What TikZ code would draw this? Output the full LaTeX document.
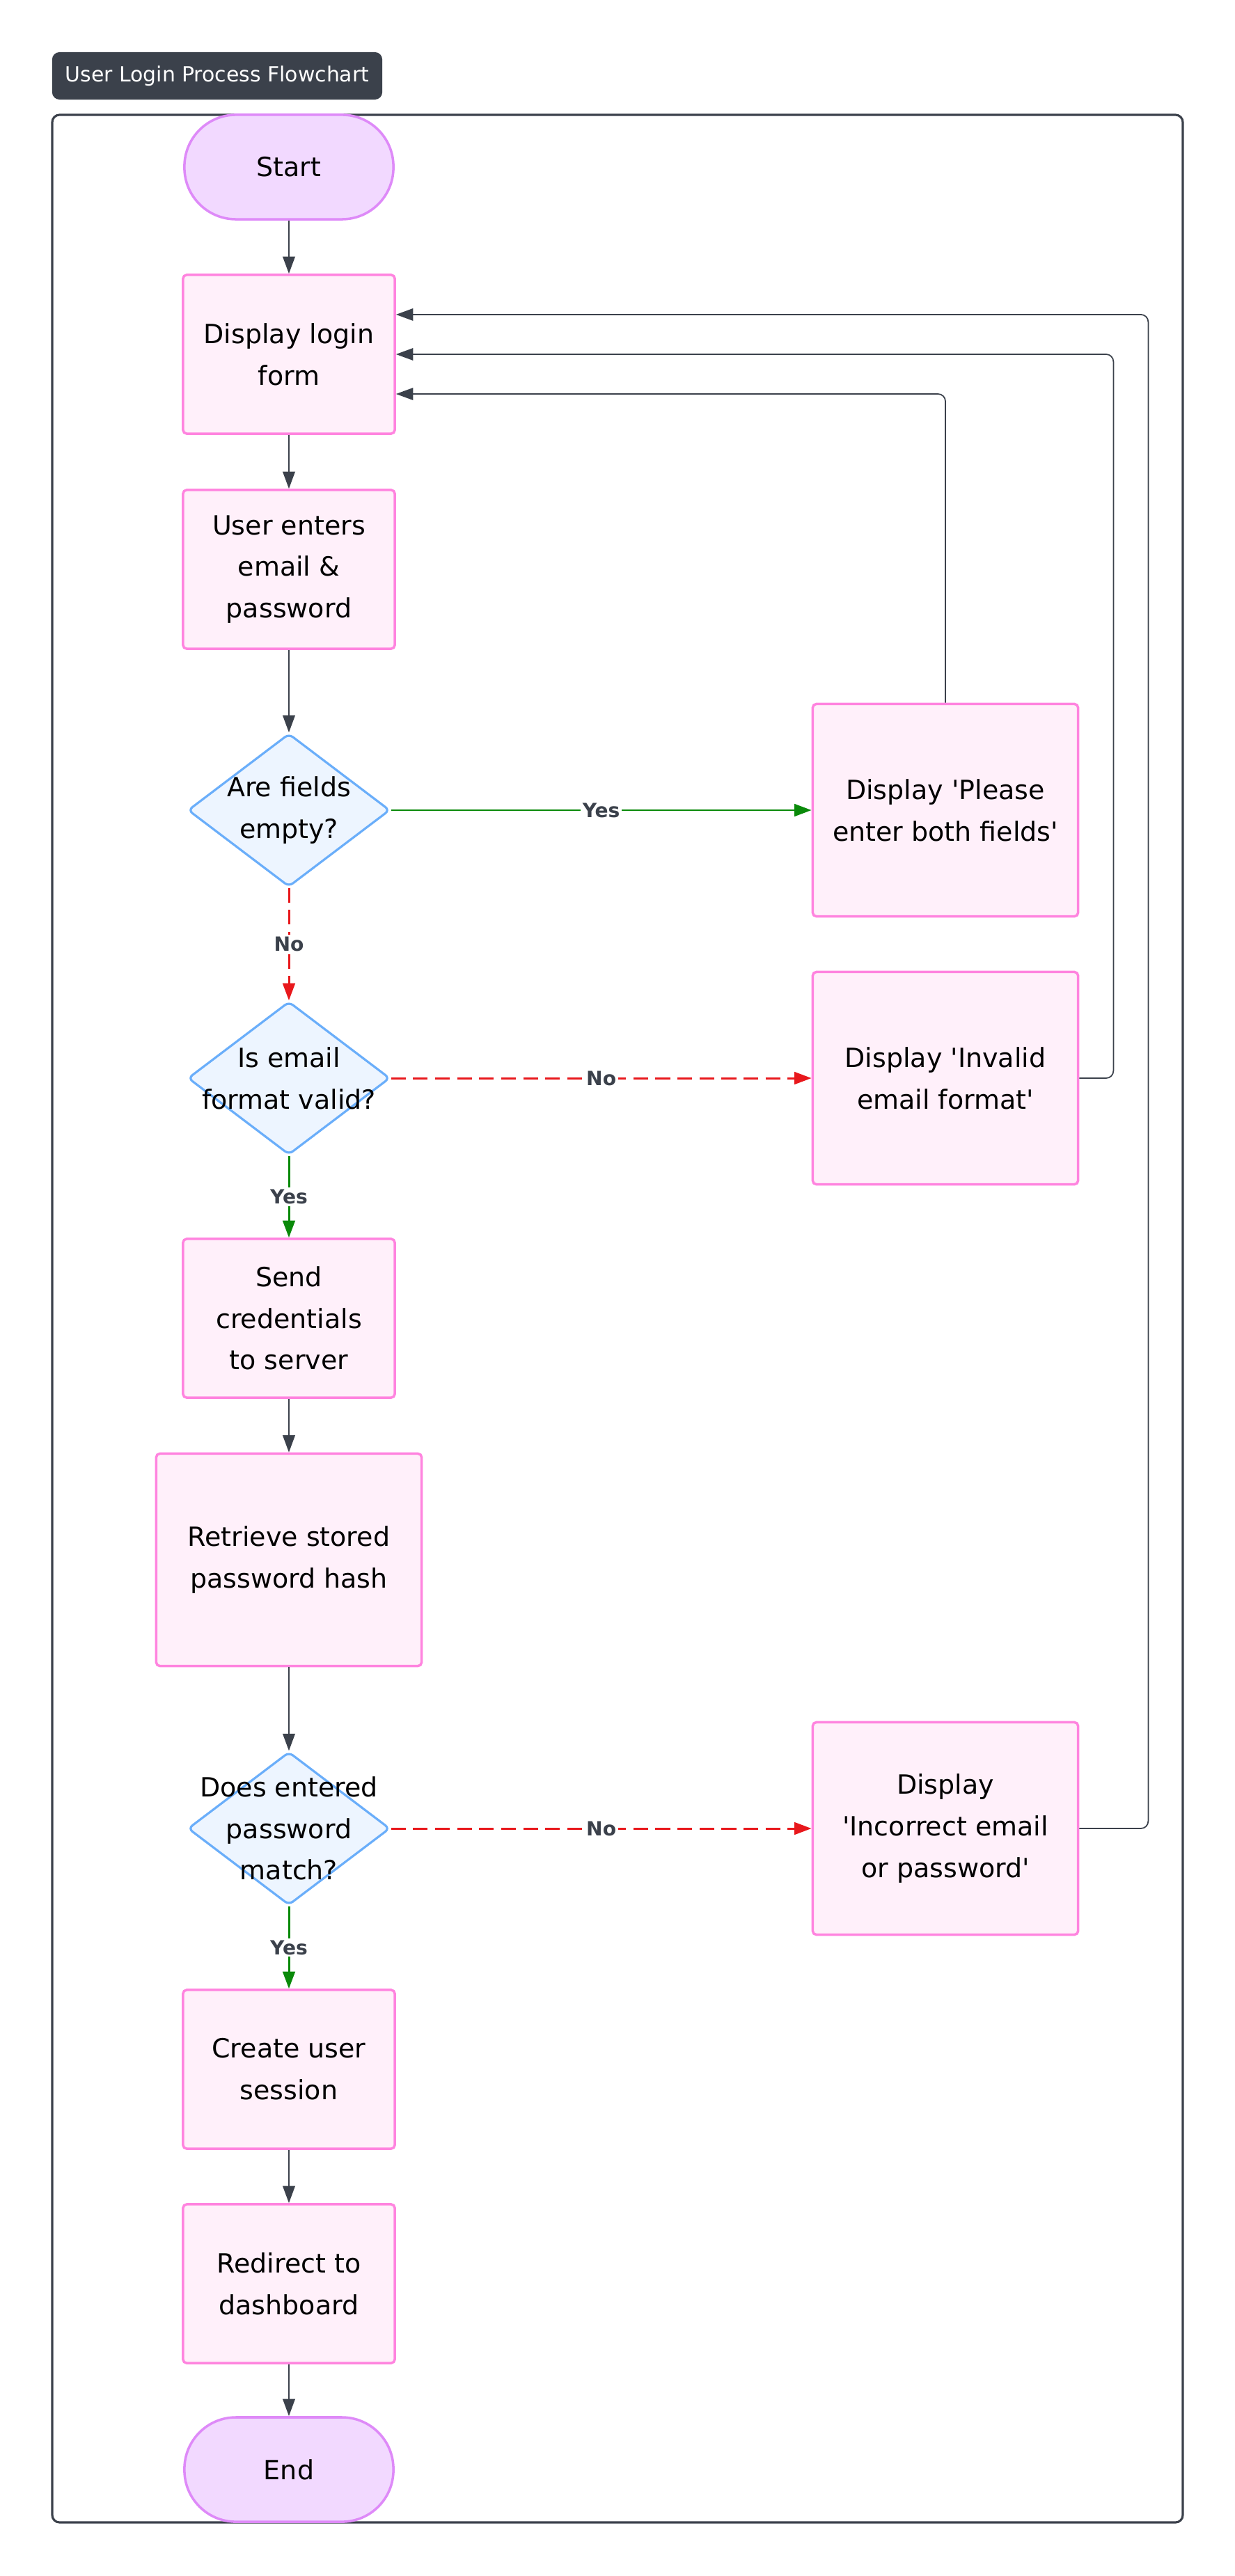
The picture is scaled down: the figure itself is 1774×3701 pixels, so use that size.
\documentclass[tikz,border=0pt]{standalone}
\usepackage{fontspec}
\setmainfont{DejaVu Sans}[Ligatures=TeXOff]
\usepackage{tikz}
\usetikzlibrary{arrows.meta,shapes.geometric}

\definecolor{inkgray}{HTML}{3B414B}
\definecolor{procfill}{HTML}{FFF0FA}
\definecolor{procline}{HTML}{FF84DF}
\definecolor{termfill}{HTML}{F2D9FF}
\definecolor{termline}{HTML}{DE8AF8}
\definecolor{askfill}{HTML}{EDF5FF}
\definecolor{askline}{HTML}{6AAEFA}
\definecolor{yesgreen}{HTML}{0A8A0A}
\definecolor{nored}{HTML}{E8181C}

\tikzset{
  nodefont/.style={font=\fontsize{10.8}{17}\selectfont},
  proc/.style={nodefont, draw=procline, fill=procfill, line width=1pt, rounded corners=1.5pt,
    minimum width=3.04cm, minimum height=2.28cm, align=center, inner sep=0pt},
  wideproc/.style={proc, minimum width=3.81cm, minimum height=3.05cm},
  terminal/.style={nodefont, draw=termline, fill=termfill, line width=1pt, rounded corners=0.74cm,
    minimum width=3cm, minimum height=1.5cm},
  ask/.style={diamond, draw=askline, fill=askfill, line width=0.9pt, rounded corners=2pt,
    minimum width=2.9cm, minimum height=2.2cm, inner sep=0pt},
  asktext/.style={nodefont, align=center, inner sep=0pt},
  titlebox/.style={fill=inkgray, text=white, rounded corners=3pt, minimum width=4.74cm,
    minimum height=0.68cm, font=\fontsize{8.5}{10}\selectfont},
  flow/.style={color=inkgray, line width=0.6pt, -{Triangle[length=7pt,width=5pt]}},
  yesflow/.style={flow, color=yesgreen, line width=0.85pt},
  noflow/.style={flow, color=nored, line width=0.85pt, dash pattern=on 6pt off 3pt},
  back/.style={flow, line width=0.5pt, rounded corners=3pt},
  answer/.style={fill=white, inner sep=0.8pt, text=inkgray, font=\fontsize{8}{9}\bfseries\selectfont}
}

\begin{document}
\begin{tikzpicture}[x=0.01cm,y=-0.01cm]
  \useasboundingbox (0,0) rectangle (1774,3701);
  % cluster frame and its title
  \draw[inkgray, line width=0.9pt, rounded corners=3pt] (75,165) rectangle (1699,3624);
  \draw (312,109) node[titlebox] (title) {User Login Process Flowchart};

  % main column
  \draw (415,240) node[terminal] (start) {Start};
  \draw (415,509) node[proc] (login) {Display login\\form};
  \draw (415,818) node[proc] (user) {User enters\\email \&\\password};
  \draw (415,1164) node[ask, label={[asktext]center:Are fields\\empty?}] (empty) {};
  \draw (415,1549) node[ask, label={[asktext]center:Is email\\format valid?}] (valid) {};
  \draw (415,1894) node[proc] (send) {Send\\credentials\\to server};
  \draw (415,2241) node[wideproc] (retrieve) {Retrieve stored\\password hash};
  \draw (415,2627) node[ask, label={[asktext]center:Does entered\\password\\match?}] (match) {};
  \draw (415,2973) node[proc] (create) {Create user\\session};
  \draw (415,3281) node[proc] (redirect) {Redirect to\\dashboard};
  \draw (415,3548) node[terminal] (end) {End};

  % error messages
  \draw (1358,1164) node[wideproc] (please) {Display 'Please\\enter both fields'};
  \draw (1358,1549) node[wideproc] (invalid) {Display 'Invalid\\email format'};
  \draw (1358,2627) node[wideproc] (incorrect) {Display\\'Incorrect email\\or password'};

  \path[flow] (start) edge (login);
  \path[flow] (login) edge (user);
  \path[flow] (user) edge (empty);
  \path[yesflow] (empty) edge node[answer]{Yes} (please);
  \path[noflow] (empty) edge node[answer]{No} (valid);
  \path[noflow] (valid) edge node[answer]{No} (invalid);
  \path[yesflow] (valid) edge node[answer]{Yes} (send);
  \path[flow] (send) edge (retrieve);
  \path[flow] (retrieve) edge (match);
  \path[noflow] (match) edge node[answer]{No} (incorrect);
  \path[yesflow] (match) edge node[answer]{Yes} (create);
  \path[flow] (create) edge (redirect);
  \path[flow] (redirect) edge (end);

  % back to the form
  \draw[back] (please) |- ([yshift=-0.57cm]login.east);
  \draw[back] (invalid.east) -- ++(49,0) |- (login.east);
  \draw[back] (incorrect.east) -- ++(99,0) |- ([yshift=0.57cm]login.east);
\end{tikzpicture}
\end{document}
